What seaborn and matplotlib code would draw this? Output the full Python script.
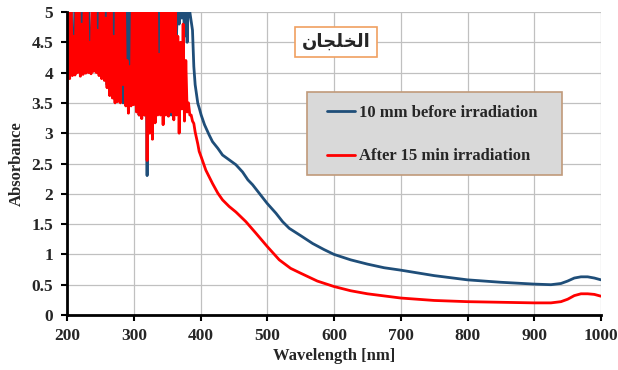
import numpy as np
import pandas as pd
import matplotlib
matplotlib.use("Agg")
import matplotlib.pyplot as plt
from matplotlib.patches import Rectangle
import seaborn as sns

# Data
blue_label = "10 mm before irradiation"
red_label = "After 15 min irradiation"

blue_nm = list(range(200, 400, 2)) + [401, 406, 413, 418, 426, 433, 443, 453, 463, 471, 478, 488,
                                       500, 513, 523, 533, 550, 568, 585, 600, 625, 650, 675, 700,
                                       750, 800, 850, 900, 925, 940, 950, 960, 970, 980, 990, 1000]
blue_abs = [4.0, 5.3, 4.1, 5.3, 4.05, 4.08, 5.3, 4.3, 5.3, 4.1,
            5.3, 4.2, 5.3, 4.32, 5.3, 4.2, 5.3, 4.1, 4.08, 5.3,
            4.2, 5.3, 4.1, 5.3, 4.0, 5.3, 3.95, 5.3, 3.9, 5.3,
            3.8, 5.3, 3.7, 5.3, 3.6, 5.3, 3.55, 5.3, 3.6, 5.3,
            3.55, 5.3, 3.5, 5.3, 3.5, 5.3, 3.4, 5.3, 3.5, 5.3,
            3.5, 5.3, 3.4, 5.3, 3.3, 5.3, 3.3, 5.3, 3.3, 5.3,
            2.3, 5.3, 3.1, 5.3, 3.05, 5.3, 3.3, 5.3, 3.4, 5.3,
            3.35, 5.3, 3.3, 5.3, 3.4, 5.3, 3.3, 5.3, 3.3, 5.3,
            3.4, 5.3, 4.6, 5.3, 4.8, 5.3, 4.9, 5.3, 4.6, 5.3,
            4.5, 5.3, 5.0, 4.85, 4.7, 4.1, 3.8, 3.65, 3.49, 3.42,
            3.30, 3.14, 2.97, 2.86, 2.75, 2.64, 2.56, 2.48, 2.36, 2.23, 2.15, 2.01,
            1.84, 1.68, 1.54, 1.43, 1.31, 1.18, 1.08, 1.00, 0.91, 0.84, 0.78, 0.74,
            0.65, 0.58, 0.54, 0.51, 0.50, 0.52, 0.56, 0.61, 0.63, 0.63, 0.61, 0.58]

red_nm = list(range(200, 400, 2)) + [401, 408, 418, 426, 433, 443, 453, 468, 483, 500, 518, 535,
                                      550, 575, 600, 625, 650, 700, 750, 800, 850, 900, 925, 940,
                                      950, 960, 970, 980, 990, 1000]
red_abs = [3.72, 5.3, 3.9, 5.3, 3.95, 4.6, 3.96, 5.3, 4.0, 5.3,
           3.94, 4.8, 3.97, 5.3, 3.99, 5.3, 4.0, 4.5, 3.98, 5.3,
           4.02, 5.3, 4.0, 4.7, 3.95, 5.3, 3.9, 5.3, 3.87, 4.9,
           3.75, 5.3, 3.62, 5.3, 3.58, 4.6, 3.5, 5.3, 3.52, 5.3,
           3.5, 5.3, 3.8, 5.3, 3.45, 4.2, 3.33, 4.1, 3.45, 5.3,
           3.47, 5.3, 3.35, 5.3, 3.3, 5.3, 3.24, 5.3, 3.3, 5.3,
           2.55, 5.3, 3.0, 5.3, 2.9, 5.3, 3.17, 5.3, 3.3, 4.3,
           3.3, 5.3, 3.14, 5.3, 3.3, 5.3, 3.28, 5.3, 3.35, 5.3,
           3.22, 5.3, 3.3, 4.6, 3.0, 4.5, 3.4, 4.8, 3.2, 4.2,
           3.35, 3.5, 3.3, 3.3, 3.2, 3.16, 3.02, 2.92, 2.82, 2.7,
           2.61, 2.39, 2.17, 2.01, 1.90, 1.79, 1.70, 1.54, 1.35, 1.13, 0.91, 0.77,
           0.69, 0.56, 0.47, 0.40, 0.35, 0.28, 0.24, 0.22, 0.21, 0.20, 0.20, 0.22,
           0.26, 0.32, 0.35, 0.35, 0.34, 0.31]

df = pd.concat([
    pd.DataFrame({"nm": blue_nm, "abs": blue_abs, "series": blue_label}),
    pd.DataFrame({"nm": red_nm, "abs": red_abs, "series": red_label}),
])

sns.set_style("white")
plt.rcParams['font.family'] = ['Liberation Serif', 'DejaVu Serif']
plt.rcParams['font.weight'] = 'bold'

fig = plt.figure(figsize=(6.18, 3.70), dpi=100)
ax = fig.add_axes([67 / 618, 1 - 315 / 370, 534 / 618, 303 / 370])

sns.lineplot(data=df, x="nm", y="abs", hue="series", hue_order=[blue_label, red_label],
             palette={blue_label: "#1f4e79", red_label: "#ff0000"},
             estimator=None, sort=False, linewidth=2.0, ax=ax)

ax.set_xlim(200, 1000)
ax.set_ylim(0, 5)
ax.set_xticks(range(200, 1001, 100))
ax.set_yticks(np.arange(0, 5.01, 0.5))
ax.set_yticklabels(["0", "0.5", "1", "1.5", "2", "2.5", "3", "3.5", "4", "4.5", "5"])
ax.grid(True, color="#c0c0c0", linewidth=0.9)
ax.set_axisbelow(True)
for s in ["top", "right"]:
    ax.spines[s].set_visible(False)
for s in ["left", "bottom"]:
    ax.spines[s].set_color("black")
    ax.spines[s].set_linewidth(2)
ax.tick_params(axis="both", direction="out", length=4, width=1.5, color="black",
               labelsize=12.5, left=True, bottom=True)
ax.tick_params(axis="x", pad=5)
ax.tick_params(axis="y", pad=6)
for lab in ax.get_xticklabels() + ax.get_yticklabels():
    lab.set_fontweight("bold")

ax.set_xlabel("Wavelength [nm]", fontsize=12, fontweight="bold", labelpad=3)
ax.set_ylabel("Absorbance", fontsize=12, fontweight="bold", labelpad=5)

# legend box drawn separately so the inner padding can match
ax.add_patch(Rectangle((307 / 618, 1 - 175 / 370), 255 / 618, 83 / 370, transform=fig.transFigure,
                       facecolor="#d9d9d9", edgecolor="#c09a7a", linewidth=1.2, zorder=4,
                       clip_on=False))
leg = ax.legend(loc="upper left", bbox_to_anchor=(327 / 618, 1 - 105 / 370),
                bbox_transform=fig.transFigure, borderaxespad=0, borderpad=0,
                prop={"family": "Liberation Serif", "weight": "bold", "size": 12},
                frameon=False, labelspacing=1.65, handlelength=1.7, handletextpad=0.2)
leg.set_zorder(5)

# Arabic label, pre-shaped presentation forms in visual order
ax.text(336 / 618, 1 - 42 / 370, "\uFEE5\uFE8E\uFEA0\uFEE0\uFEA8\uFEDF\uFE8D",
        transform=fig.transFigure, ha="center", va="center", fontsize=13,
        family=["DejaVu Sans"], fontweight="bold",
        bbox=dict(boxstyle="square,pad=0.35", facecolor="white", edgecolor="#f0a060", linewidth=1.2))

fig.savefig("out.png", dpi=100)
